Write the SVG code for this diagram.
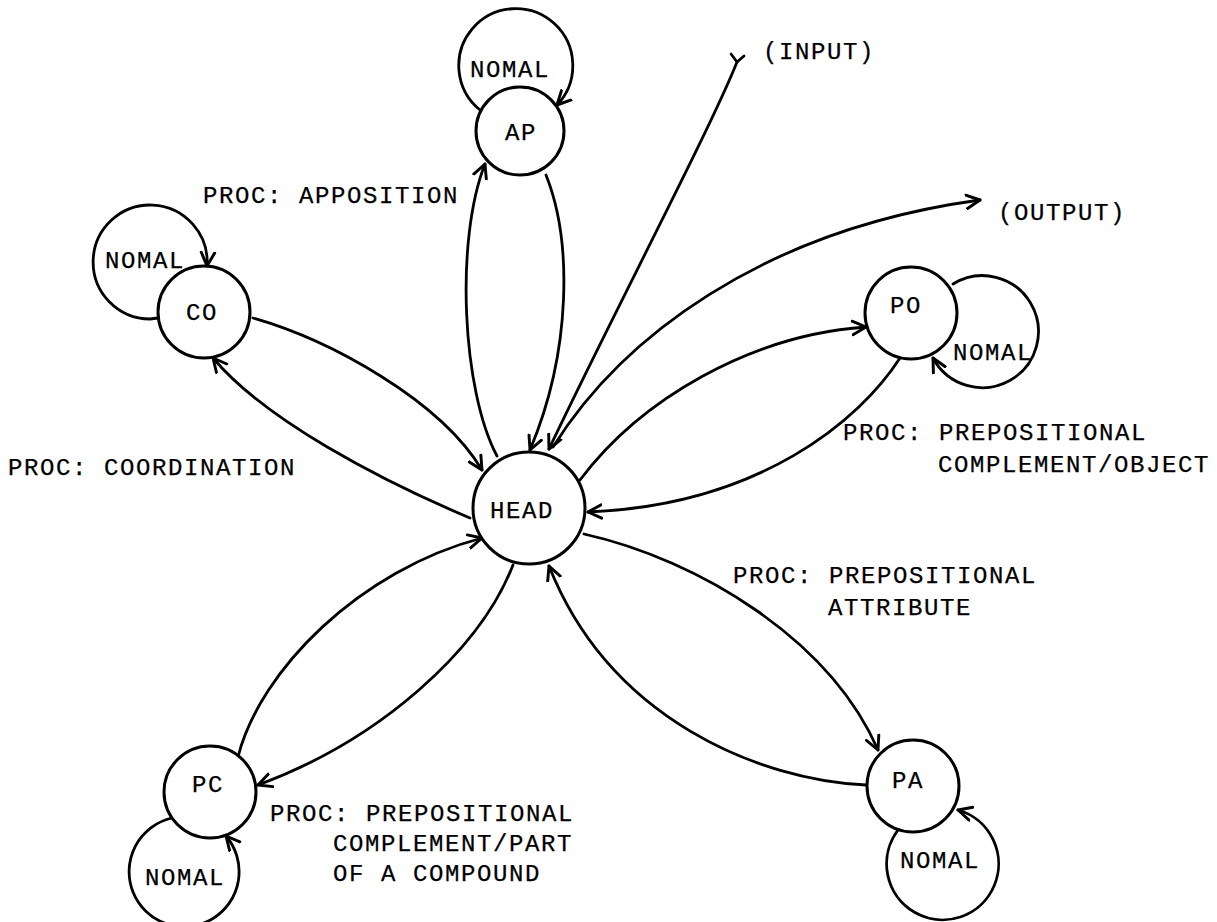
<svg xmlns="http://www.w3.org/2000/svg" width="1217" height="922" viewBox="0 0 1217 922">
<style>
  .node { fill: #fff; stroke: #000; stroke-width: 3; }
  .edge { fill: none; stroke: #000; stroke-width: 2.8; stroke-linecap: round; }
  .t { font-family: "Liberation Mono", "Courier New", monospace; font-size: 24px; letter-spacing: 1.6px; fill: #000; stroke: #000; stroke-width: 0.25; }
</style>
<defs>
  <marker id="arr" markerUnits="userSpaceOnUse" markerWidth="18" markerHeight="18" refX="13" refY="7" orient="auto" viewBox="0 0 16 14">
    <path d="M1,1 L13,7 L1,13" fill="none" stroke="#000" stroke-width="2.6" stroke-linecap="round" stroke-linejoin="round"/>
  </marker>
</defs>

<g id="connectors">
  <!-- HEAD <-> AP -->
  <path class="edge" d="M497,456 C462,390 455,240 485,164" marker-end="url(#arr)"/>
  <path class="edge" d="M546,175 C572,240 572,350 530,450" marker-end="url(#arr)"/>
  <!-- INPUT -->
  <path class="edge" d="M737,62 C710,130 610,320 549,449" marker-end="url(#arr)"/>
  <path class="edge" d="M737,62 L731,54 M737,62 L744,56"/>
  <!-- OUTPUT -->
  <path class="edge" d="M553,447 C620,340 760,230 980,200" marker-end="url(#arr)"/>
  <!-- HEAD <-> PO -->
  <path class="edge" d="M580,480 C640,400 750,335 866,327" marker-end="url(#arr)"/>
  <path class="edge" d="M900,358 C860,420 760,505 588,512" marker-end="url(#arr)"/>
  <!-- HEAD <-> PA -->
  <path class="edge" d="M584,534 C700,560 830,640 878,750" marker-end="url(#arr)"/>
  <path class="edge" d="M866,785 C760,780 610,720 549,566" marker-end="url(#arr)"/>
  <!-- HEAD <-> PC -->
  <path class="edge" d="M513,565 C480,650 380,740 258,785" marker-end="url(#arr)"/>
  <path class="edge" d="M238,757 C260,670 360,570 482,538" marker-end="url(#arr)"/>
  <!-- HEAD <-> CO -->
  <path class="edge" d="M253,318 C330,340 440,400 482,470" marker-end="url(#arr)"/>
  <path class="edge" d="M470,518 C380,480 265,420 213,358" marker-end="url(#arr)"/>
  <!-- self loops -->
  <path class="edge" d="M480,110 A57,57 0 1 1 557,105" marker-end="url(#arr)"/>
  <path class="edge" d="M158,318 L150,319 A57,57 0 1 1 207,266" marker-end="url(#arr)"/>
  <path class="edge" d="M953,284 A56,56 0 1 1 933,358" marker-end="url(#arr)"/>
  <path class="edge" d="M172,818 A55,55 0 1 0 226,836" marker-end="url(#arr)"/>
  <path class="edge" d="M898,830 A56,56 0 1 0 958,810" marker-end="url(#arr)"/>
</g>

<g id="node-AP">
  <circle class="node" cx="520" cy="131" r="44"/>
  <text class="t" x="505" y="140">AP</text>
  <text class="t" x="470" y="77">NOMAL</text>
</g>
<g id="node-CO">
  <circle class="node" cx="204" cy="312" r="46"/>
  <text class="t" x="186" y="320">CO</text>
  <text class="t" x="105" y="268">NOMAL</text>
</g>
<g id="node-PO">
  <circle class="node" cx="911" cy="313" r="46"/>
  <text class="t" x="890" y="313">PO</text>
  <text class="t" x="953" y="360">NOMAL</text>
</g>
<g id="node-HEAD">
  <circle class="node" cx="529" cy="508" r="56"/>
  <text class="t" x="490" y="518">HEAD</text>
</g>
<g id="node-PC">
  <circle class="node" cx="210" cy="792" r="46"/>
  <text class="t" x="192" y="792">PC</text>
  <text class="t" x="145" y="885">NOMAL</text>
</g>
<g id="node-PA">
  <circle class="node" cx="913" cy="786" r="46"/>
  <text class="t" x="892" y="788">PA</text>
  <text class="t" x="900" y="868">NOMAL</text>
</g>

<g id="labels">
  <text class="t" x="763" y="59">(INPUT)</text>
  <text class="t" x="998" y="220">(OUTPUT)</text>
  <text class="t" x="203" y="203">PROC: APPOSITION</text>
  <text class="t" x="8" y="475">PROC: COORDINATION</text>
  <text class="t" x="843" y="440">PROC: PREPOSITIONAL</text>
  <text class="t" x="938" y="472">COMPLEMENT/OBJECT</text>
  <text class="t" x="733" y="583">PROC: PREPOSITIONAL</text>
  <text class="t" x="828" y="615">ATTRIBUTE</text>
  <text class="t" x="270" y="821">PROC: PREPOSITIONAL</text>
  <text class="t" x="333" y="851">COMPLEMENT/PART</text>
  <text class="t" x="333" y="881">OF A COMPOUND</text>
</g>
</svg>
